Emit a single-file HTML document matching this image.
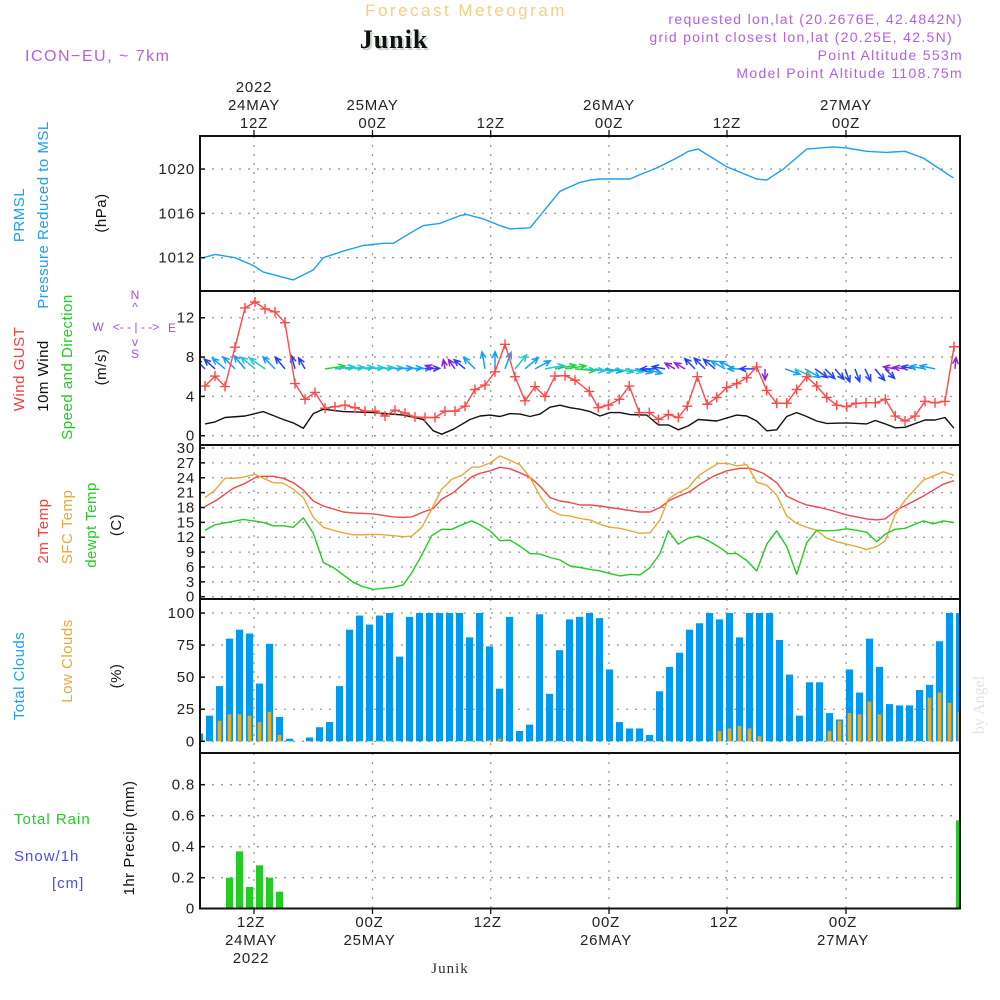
<!DOCTYPE html>
<html><head><meta charset="utf-8"><title>Forecast Meteogram Junik</title>
<style>
html,body{margin:0;padding:0;background:#fff;}
svg{display:block;font-family:"Liberation Sans",sans-serif;}
.tk{font-size:15px;fill:#222;letter-spacing:0.8px;}
.lab{font-size:15px;letter-spacing:0.5px;}
</style></head>
<body>
<svg id="chart" width="1000" height="1000" viewBox="0 0 1000 1000" xmlns="http://www.w3.org/2000/svg">
<defs><clipPath id="plotclip"><rect x="200" y="136" width="760" height="773"/></clipPath></defs>
<text x="466" y="16" text-anchor="middle" style="font-size:17px;fill:#f2cf88;letter-spacing:2.5px">Forecast Meteogram</text>
<text x="396" y="50" text-anchor="middle" style="font-family:'Liberation Serif',serif;font-weight:bold;font-size:26px;fill:#c8d8c8;letter-spacing:1px">Junik</text>
<text x="394" y="48" text-anchor="middle" style="font-family:'Liberation Serif',serif;font-weight:bold;font-size:26px;fill:#111;letter-spacing:1px">Junik</text>
<text x="25" y="61" style="font-size:16px;fill:#b060e8;letter-spacing:1.5px">ICON−EU, ~ 7km</text>
<g style="font-size:14px;fill:#b060e8;letter-spacing:1.3px" text-anchor="end">
<text x="963" y="24">requested lon,lat (20.2676E, 42.4842N)</text>
<text x="953" y="42">grid point closest lon,lat (20.25E, 42.5N)</text>
<text x="963" y="60">Point Altitude 553m</text>
<text x="963" y="78">Model Point Altitude 1108.75m</text>
</g>
<g class="lab">
<text transform="translate(24,215) rotate(-90)" text-anchor="middle" fill="#1aa0f0">PRMSL</text>
<text transform="translate(48,215) rotate(-90)" text-anchor="middle" fill="#1aa0f0">Pressure Reduced to MSL</text>
<text transform="translate(106,213) rotate(-90)" text-anchor="middle" fill="#111">(hPa)</text>
<text transform="translate(24,369) rotate(-90)" text-anchor="middle" fill="#f04040">Wind GUST</text>
<text transform="translate(48,376) rotate(-90)" text-anchor="middle" fill="#111">10m Wind</text>
<text transform="translate(72,367) rotate(-90)" text-anchor="middle" fill="#22cc22">Speed and Direction</text>
<text transform="translate(106,367) rotate(-90)" text-anchor="middle" fill="#111">(m/s)</text>
<text transform="translate(48,531) rotate(-90)" text-anchor="middle" fill="#f04040">2m Temp</text>
<text transform="translate(72,527) rotate(-90)" text-anchor="middle" fill="#e8a838">SFC Temp</text>
<text transform="translate(96,525) rotate(-90)" text-anchor="middle" fill="#22cc22">dewpt Temp</text>
<text transform="translate(121,525) rotate(-90)" text-anchor="middle" fill="#111">(C)</text>
<text transform="translate(24,676) rotate(-90)" text-anchor="middle" fill="#1aa0f0">Total Clouds</text>
<text transform="translate(72,661) rotate(-90)" text-anchor="middle" fill="#e8a838">Low Clouds</text>
<text transform="translate(121,676) rotate(-90)" text-anchor="middle" fill="#111">(%)</text>
<text transform="translate(134,838) rotate(-90)" text-anchor="middle" fill="#111">1hr Precip (mm)</text>
<text x="14" y="824" fill="#22cc22" style="letter-spacing:1px">Total  Rain</text>
<text x="14" y="861" fill="#4a4aff" style="letter-spacing:1px">Snow/1h</text>
<text x="52" y="888" fill="#4a4aff" style="letter-spacing:1px">[cm]</text>
</g>
<g style="font-size:12px;fill:#a050e0">
<text x="135" y="299" text-anchor="middle">N</text>
<text x="135" y="311" text-anchor="middle">^</text>
<text x="98" y="331" text-anchor="middle">W</text>
<text x="136" y="331" text-anchor="middle">&lt;- - | - -&gt;</text>
<text x="172" y="332" text-anchor="middle">E</text>
<text x="135" y="346" text-anchor="middle">v</text>
<text x="135" y="358" text-anchor="middle">S</text>
</g>
<text transform="translate(984,705) rotate(-90)" text-anchor="middle" style="font-family:'Liberation Serif',serif;font-size:16px;fill:#dde4dd">by Angel</text>
<text x="450" y="973" text-anchor="middle" style="font-family:'Liberation Serif',serif;font-size:15px;fill:#333;letter-spacing:1px">Junik</text>
<g id="grid"></g>
<g id="marks" clip-path="url(#plotclip)"></g>
<g id="axes"></g>
</svg>
<script>
// ---------- data ----------
const gridTimes = [5.4, 17.25, 29.07, 40.9, 52.7, 64.6];
const topDay = ["24MAY", "25MAY", "", "26MAY", "", "27MAY"];
const hourLabels = ["12Z", "00Z", "12Z", "00Z", "12Z", "00Z"];
const yearLabel = "2022";

const pressTicks = [1012, 1016, 1020];
const windTicks = [0, 4, 8, 12];
const tempTicks = [0, 3, 6, 9, 12, 15, 18, 21, 24, 27, 30];
const cloudTicks = [0, 25, 50, 75, 100];
const precipTicks = [0, 0.2, 0.4, 0.6, 0.8];
const precipTickLabels = ["0", "0.2", "0.4", "0.6", "0.8"];

const pressT = [0.33,1.5,3.5,5.33,6.33,9.33,11.33,12.33,14.33,16.33,18.33,19.33,21.17,22.33,24,26,26.67,28.33,30,31,33,36,38,39,40,43,44,45.67,47.67,48.83,49.83,52.67,55.67,56.67,58.33,60.67,63.33,64.67,66.67,68.67,70.5,72.33,75.33];
const pressV = [1012.0,1012.3,1012.0,1011.3,1010.7,1010.0,1010.9,1012.0,1012.6,1013.1,1013.3,1013.3,1014.3,1014.9,1015.1,1015.8,1015.9,1015.5,1014.9,1014.6,1014.7,1018.0,1018.8,1019.0,1019.1,1019.1,1019.5,1020.1,1021.0,1021.6,1021.8,1020.2,1019.1,1019.0,1020.0,1021.8,1022.0,1021.9,1021.6,1021.5,1021.6,1021.0,1019.2];

const gustT = [0.5,1.5,2.5,3.5,4.5,5.5,6.5,7.5,8.5,9.5,10.5,11.5,12.5,13.5,14.5,15.5,16.5,17.5,18.5,19.5,20.5,21.5,22.5,23.5,24.5,25.5,26.5,27.5,28.5,29.5,30.5,31.5,32.5,33.5,34.5,35.5,36.5,37.5,38.93,39.83,40.83,41.93,42.93,43.93,44.93,45.83,46.83,47.83,48.73,49.73,50.73,51.67,52.67,53.67,54.67,55.67,56.67,57.67,58.67,59.67,60.67,61.67,62.67,63.67,64.67,65.6,66.6,67.53,68.53,69.53,70.5,71.5,72.5,73.5,74.5,75.4];
const gustV = [5.05,6.07,5.0,9.0,13.0,13.6,12.9,12.6,11.5,5.3,3.7,4.4,2.8,2.95,3.1,2.85,2.5,2.5,2.0,2.6,2.3,1.9,1.85,1.85,2.5,2.5,3.0,4.7,5.15,6.5,9.3,6.0,3.55,5.0,4.0,6.07,6.1,5.65,4.5,2.85,3.1,3.7,5.05,2.35,2.35,1.65,2.15,1.85,3.0,6.0,3.2,3.9,4.9,5.3,5.9,7.0,4.6,3.3,3.3,4.7,6.0,5.05,3.9,3.1,2.95,3.3,3.35,3.35,3.7,2.0,1.5,2.0,3.5,3.35,3.5,9.05];

const windT = [0.5,1.5,2.5,4.5,6.33,8.33,9.33,10.33,11.33,12.33,14.33,17.33,20.33,22.33,23.33,24.17,25.33,27,28,29,30,31,32,33,34,35,36,37,38,39,40,41,42,43,44.67,45.83,46.83,47.83,48.83,49.83,51.67,53.67,54.67,55.67,56.67,57.67,58.67,59.67,60.67,61.67,62.67,64.67,66.67,67.53,68.53,69.53,70.5,72.5,73.5,74.5,75.4];
const windV = [1.2,1.4,1.85,2.0,2.45,1.65,1.3,0.75,2.25,2.7,2.45,2.35,2.1,1.65,0.5,0.15,0.65,1.65,2.0,2.1,1.95,2.25,2.2,1.95,2.2,2.9,3.1,2.85,2.7,2.45,2.0,2.35,2.35,2.15,2.1,1.1,1.1,0.6,1.0,1.65,1.5,2.1,2.0,1.5,0.5,0.6,1.95,2.35,1.95,1.5,1.25,1.3,1.2,1.55,1.2,0.8,0.85,1.6,1.6,1.85,0.75];

const windDir = [135,138,140,135,130,140,145,135,130,105,120,null,8,6,5,5,4,4,3,3,3,2,2,160,100,125,140,135,100,90,70,50,40,28,10,10,8,-5,-6,-8,-8,-10,-10,-12,-15,180,170,150,150,135,135,140,150,155,180,180,270,null,-20,-25,-30,-35,-45,-50,-70,-70,-65,-50,-45,170,172,170,170,168,null,85];

const cloudTotal = [6,20,43,80,87,84,45,76,19,2,0,3,11,15,43,87,98,91,98,100,66,97,100,100,100,100,100,81,100,74,41,97,8,13,99,37,71,95,97,100,96,56,15,10,10,5,39,58,69,87,92,100,95,100,81,100,100,100,79,52,20,46,46,22,17,56,38,80,58,29,28,28,40,44,78,100,100];
const cloudLow = [0,0,16,21,21,20,15,23,5,0,0,0,0,0,0,0,0,0,0,0,0,0,0,0,0,0,0,0,0,1,2,0,0,0,0,0,0,0,0,0,0,0,0,0,0,0,0,0,0,0,0,0,8,10,12,10,4,0,0,0,0,0,0,8,16,22,21,31,21,0,0,0,0,34,38,30,23];
const precipRain = [0,0,0,0.2,0.37,0.14,0.28,0.2,0.11,0,0,0,0,0,0,0,0,0,0,0,0,0,0,0,0,0,0,0,0,0,0,0,0,0,0,0,0,0,0,0,0,0,0,0,0,0,0,0,0,0,0,0,0,0,0,0,0,0,0,0,0,0,0,0,0,0,0,0,0,0,0,0,0,0,0,0,0.57];

const t2mT = [0.5,1.67,3.33,4.33,5.67,6.33,7.33,8.33,9.33,10.33,11.33,12.33,13.33,14.33,15.33,17.33,19.33,20.33,21.17,22.33,23.33,24.17,25.33,27.17,28,29,30,31,32,33,34,35,36,37,38,39,40,41,42,43,44,45,46,47,48,49,50,51.33,52.67,54,55,56.33,57.67,58.67,59.67,60.67,62,63.33,64.67,65.67,66.67,67.67,68.5,69.67,70.83,72.33,74.33,75.4];
const t2mV = [18.2,19.5,21.9,22.7,24.2,24.3,24.3,23.9,23.0,21.5,19.3,18.3,17.7,17.1,16.9,16.7,16.1,16.0,16.1,17.1,17.8,19.7,21.0,24.2,24.9,25.4,26.1,25.8,25.0,24.1,22.3,20.0,19.3,19.0,18.5,18.5,18.3,18.0,17.7,17.4,17.1,17.1,18.0,19.5,20.4,21.2,22.7,24.3,25.4,25.9,25.9,24.9,23.0,20.3,19.3,18.5,18.0,17.3,16.5,16.1,15.7,15.5,15.7,17.5,18.7,20.3,22.7,23.4];

const sfcT = [0.5,1.5,2.5,3.5,4.5,5.5,6.33,7.33,8.33,9.33,10.33,11.33,12.33,13.33,14.33,15.33,16.33,17.33,18.33,19.33,20.33,21.17,22.17,23.17,24.17,25.17,26.17,27.17,28,29,30,32,33,34,35,36,37,38,39,40,41,42,43,44,45,46,46.83,47.83,48.83,49.83,50.83,51.83,52.83,53.67,54.67,55.67,56.67,57.67,58.67,59.67,60.67,61.67,62.67,63.67,64.67,65.67,66.67,67.67,68.5,69.5,70.5,72.33,74.33,75.4];
const sfcV = [20.0,21.5,23.9,23.9,24.2,24.7,23.9,23.0,22.9,21.7,20.0,16.0,14.0,13.4,12.9,12.5,12.5,12.6,12.5,12.3,12.1,12.2,14.0,17.7,21.7,23.7,24.5,26.1,26.2,27.0,28.4,26.6,24.1,20.3,17.5,16.5,16.3,15.8,15.5,14.6,14.0,13.8,13.3,12.8,12.9,15.5,19.7,21.0,22.0,24.4,25.7,26.9,26.9,26.4,26.7,23.1,22.5,20.5,16.3,14.8,14.0,13.4,11.8,11.1,10.6,10.1,9.5,10.1,11.2,16.5,19.5,23.5,25.2,24.5];

const dewT = [0.5,1.5,4.33,5.33,6.33,7.33,8.33,9.33,10.33,11.33,12.33,13.33,14.33,15.33,16.33,17.33,18.33,19.33,20.33,21.17,22.17,23.17,24.17,25.17,26.17,27.17,28,29,30,31,32,33,34,35,36,37,38,39,40,41,42,43,44,45,46,46.83,47.83,48.83,49.83,50.83,51.83,52.83,53.67,54.67,55.67,56.67,57.67,58.67,59.67,60.67,61.67,62.67,63.67,64.67,65.67,66.67,67.67,68.5,69.5,70.5,72.33,73.33,74.33,75.4];
const dewV = [13.4,14.5,15.6,15.3,15.0,14.3,14.3,14.0,15.9,12.8,6.9,5.9,4.4,2.9,2.0,1.5,1.7,1.9,2.4,4.8,8.4,12.3,13.6,13.6,14.5,15.3,14.5,13.3,11.3,11.4,10.2,8.7,8.6,7.9,7.4,6.2,5.9,5.5,5.2,4.7,4.2,4.5,4.4,5.9,8.7,13.3,10.6,11.8,12.2,11.3,10.1,8.7,8.7,7.3,5.2,10.6,13.3,10.1,4.5,10.9,13.4,13.3,13.4,13.7,13.4,13.0,11.1,12.6,13.6,13.8,15.3,14.7,15.3,15.0];

// ---------- scales ----------
const X = t => 200 + 10 * t;
const barT = i => i - 0.05;
const yPress = p => 257.7 - (p - 1012) * 11.08;
const yWind = v => 435.7 - v * 9.83;
const yTemp = v => 596.7 - v * 4.956;
const yCloud = v => 741.3 - v * 1.283;
const yPrecip = v => 908.7 - v * 155;
const panels = [[136, 291], [291, 445], [445, 599], [599, 753], [753, 908.5]];

const NS = "http://www.w3.org/2000/svg";
const grid = document.getElementById("grid");
const marks = document.getElementById("marks");
const axes = document.getElementById("axes");
function mk(tag, attrs, parent) {
  const e = document.createElementNS(NS, tag);
  for (const k in attrs) e.setAttribute(k, attrs[k]);
  parent.appendChild(e);
  return e;
}
function interp(ts, vs, t) {
  if (t <= ts[0]) return vs[0];
  for (let i = 1; i < ts.length; i++) if (t <= ts[i]) { const f = (t - ts[i-1]) / (ts[i] - ts[i-1]); return vs[i-1] + f * (vs[i] - vs[i-1]); }
  return vs[vs.length - 1];
}

gridTimes.forEach((t, i) => {
  panels.forEach(p => {
    const l = mk("line", {x1: X(t), x2: X(t), y1: p[0], y2: p[1], stroke: "#9a9a9a", "stroke-width": 1.3, "stroke-dasharray": "2,7"}, grid);
    
    
  });
});
function hgrid(ticks, yf, labels, name) {
  ticks.forEach((v, i) => {
    const y = yf(v);
    const l = mk("line", {x1: 203, x2: 958, y1: y, y2: y, stroke: "#9a9a9a", "stroke-width": 1.3, "stroke-dasharray": "2,7"}, grid);
    
    
    mk("line", {x1: 200, x2: 205, y1: y, y2: y, stroke: "#111", "stroke-width": 1.5}, axes);
    const tx = mk("text", {x: 195, y: y + 5, "text-anchor": "end", class: "tk"}, axes);
    tx.textContent = labels ? labels[i] : String(v);
    
    
  });
}
hgrid(pressTicks, yPress, null, "pressure");
hgrid(windTicks, yWind, null, "wind");
hgrid(tempTicks, yTemp, null, "temp");
hgrid(cloudTicks, yCloud, null, "cloud");
hgrid(precipTicks, yPrecip, precipTickLabels, "precip");

gridTimes.forEach((t, i) => {
  const x = X(t);
  mk("line", {x1: x, x2: x, y1: 136, y2: 130, stroke: "#111", "stroke-width": 1.3}, axes);
  mk("line", {x1: x, x2: x, y1: 908, y2: 914, stroke: "#111", "stroke-width": 1.3}, axes);
  const h = mk("text", {x: x, y: 128, "text-anchor": "middle", class: "tk"}, axes);
  h.textContent = hourLabels[i];
  
  
  if (topDay[i]) {
    const d = mk("text", {x: x, y: 110, "text-anchor": "middle", class: "tk"}, axes);
    d.textContent = topDay[i];
    
    
  }
  const bh = mk("text", {x: x - 3, y: 927, "text-anchor": "middle", class: "tk"}, axes);
  bh.textContent = hourLabels[i];
  
  
  if (topDay[i]) {
    const bd = mk("text", {x: x - 3, y: 945, "text-anchor": "middle", class: "tk"}, axes);
    bd.textContent = topDay[i];
    
    
  }
});
const y1 = mk("text", {x: X(gridTimes[0]), y: 92, "text-anchor": "middle", class: "tk"}, axes);
y1.textContent = yearLabel;


const y2 = mk("text", {x: X(gridTimes[0]) - 3, y: 963, "text-anchor": "middle", class: "tk"}, axes);
y2.textContent = yearLabel;



cloudTotal.forEach((v, i) => {
  const x = X(barT(i));
  const r = mk("rect", {x: x - 3.5, y: yCloud(v), width: 7, height: yCloud(0) - yCloud(v), fill: "#0099f0"}, marks);
  
  
});
cloudLow.forEach((v, i) => {
  if (v <= 0) return;
  const x = X(barT(i));
  const r = mk("rect", {x: x - 1.8, y: yCloud(v), width: 3.6, height: yCloud(0) - yCloud(v), fill: "#e8aa28"}, marks);
  
  
});
precipRain.forEach((v, i) => {
  if (v <= 0) return;
  const x = X(barT(i));
  const r = mk("rect", {x: x - 3.5, y: yPrecip(v), width: 7, height: yPrecip(0) - yPrecip(v), fill: "#22cc22"}, marks);
  
  
});

function line(ts, vs, yf, color, name) {
  const pts = ts.map((t, i) => X(t).toFixed(1) + "," + yf(vs[i]).toFixed(1)).join(" ");
  const p = mk("polyline", {points: pts, fill: "none", stroke: color, "stroke-width": 1.4, "stroke-linejoin": "round"}, marks);
  
  
}
line(pressT, pressV, yPress, "#1aa0f0", "pressure-line");
line(windT, windV, yWind, "#111", "wind-speed-line");

function arrowColor(s) {
  if (s < 1.0) return "#9020e0";
  if (s < 1.6) return "#2040ff";
  if (s < 2.2) return "#10a0ff";
  if (s < 2.6) return "#20c8d0";
  return "#20d040";
}
windDir.forEach((d, k) => {
  if (d === null) return;
  const t = k + 0.5;
  const s = interp(windT, windV, t);
  const len = Math.min(21, 8 + s * 4.5);
  const a = d * Math.PI / 180;
  const x0 = X(t), y0 = yWind(6.8);
  const x1 = x0 + Math.cos(a) * len, y1a = y0 - Math.sin(a) * len;
  const hl = 7, ha = 0.42;
  const hx1 = x1 - Math.cos(a - ha) * hl, hy1 = y1a + Math.sin(a - ha) * hl;
  const hx2 = x1 - Math.cos(a + ha) * hl, hy2 = y1a + Math.sin(a + ha) * hl;
  const g = mk("path", {d: `M${x0},${y0}L${x1},${y1a}M${hx1},${hy1}L${x1},${y1a}L${hx2},${hy2}`, stroke: arrowColor(s), "stroke-width": 1.5, fill: "none"}, marks);
  
  
});

line(gustT, gustV, yWind, "#ff4848", "wind-gust-line");
gustT.forEach((t, i) => {
  const x = X(t), y = yWind(gustV[i]);
  const g = mk("path", {d: `M${x-5},${y}H${x+5}M${x},${y-5}V${y+5}`, stroke: "#ff4848", "stroke-width": 1.4}, marks);
  
  
});
line(t2mT, t2mV, yTemp, "#f04848", "temp-2m-line");
line(sfcT, sfcV, yTemp, "#e8a838", "temp-sfc-line");
line(dewT, dewV, yTemp, "#22cc22", "dewpoint-line");

panels.forEach((p, i) => {
  const r = mk("rect", {x: 200, y: p[0], width: 760, height: p[1] - p[0], fill: "none", stroke: "#111", "stroke-width": 2}, axes);
  
  
});
</script>
</body></html>
